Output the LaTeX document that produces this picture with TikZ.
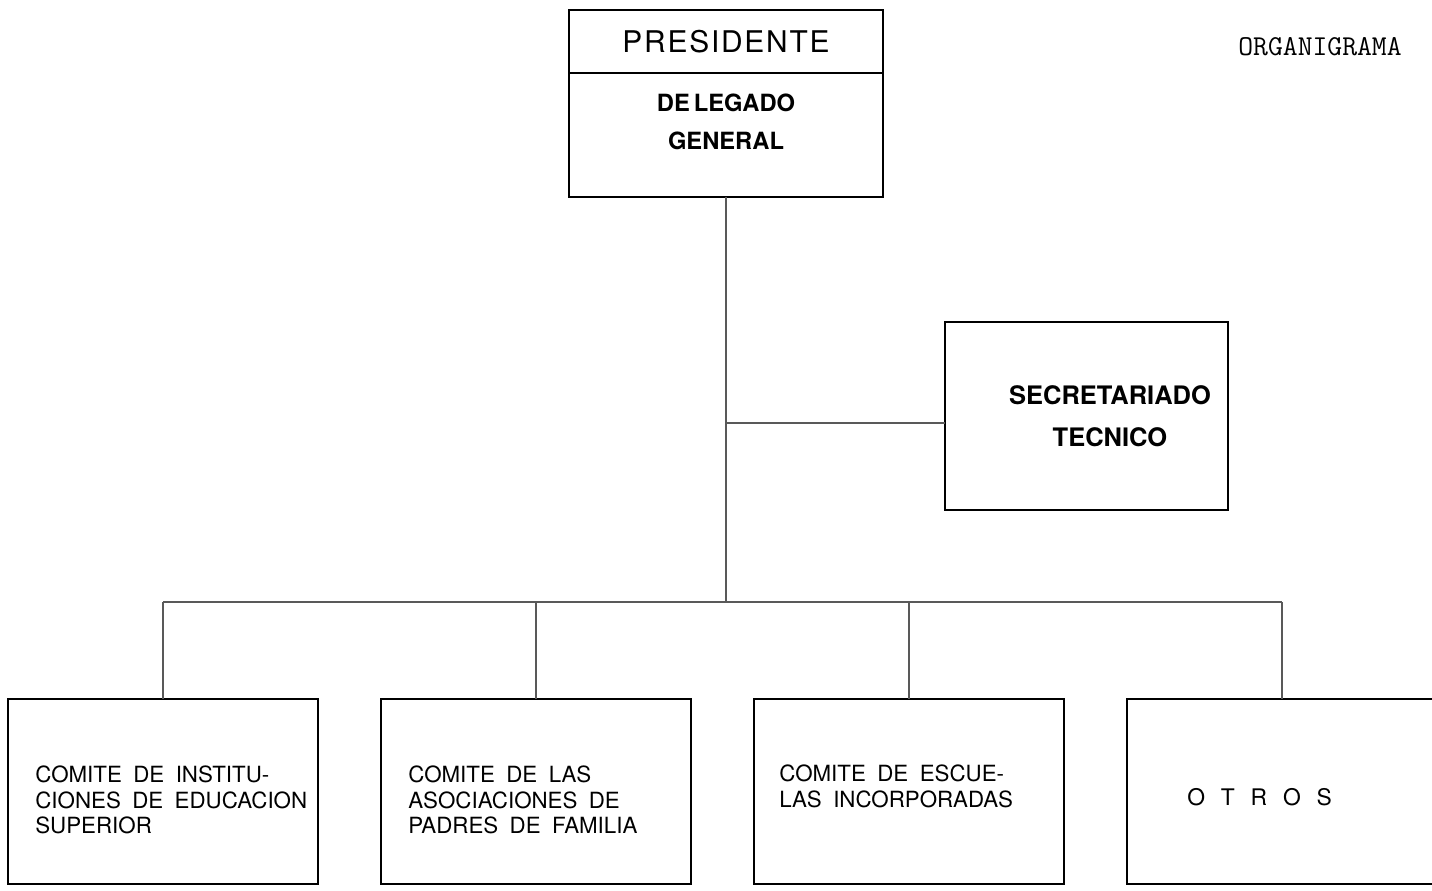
\documentclass[tikz,border=0pt]{standalone}
\usepackage{fontspec}
\usepackage{tikz}
\usepackage{xcolor}
\setmainfont{TeX Gyre Heros}
\newfontfamily\spacedfont[LetterSpace=6]{TeX Gyre Heros}
\newcommand\presfont{\spacedfont\fontsize{17}{20}\selectfont}
\newcommand\delfont{\bfseries\fontsize{13.5}{22}\selectfont}
\newcommand\secfont{\bfseries\fontsize{14.5}{24}\selectfont}
\newcommand\comfont{\fontsize{12.7}{14.5}\selectfont\spaceskip=6.5pt}
\newcommand\otrosfont{\fontsize{13}{15}\selectfont\spaceskip=9pt}

\begin{document}
\begin{tikzpicture}[node distance=1.5cm,auto]
\tikzstyle{rect}=[draw, line width=1.2pt, inner sep=0pt, outer sep=0pt]
\tikzstyle{box}=[rect, minimum width=6.2cm, minimum height=3.7cm]
\tikzstyle{txt}=[inner sep=0pt, align=left]
\tikzstyle{link}=[draw=black!65, line width=1.5pt]
\useasboundingbox (0,0) rectangle (28.64,17.8);

\node (pres) [rect, minimum width=6.28cm, minimum height=1.26cm, font=\presfont] at (14.52,16.97) {PRESIDENTE};
\node (del) [below of=pres, node distance=1.87cm, rect, minimum width=6.28cm, minimum height=2.48cm] {};
\node (deltxt) [txt, align=center, font=\delfont] at ([yshift=-0.98cm]del.north) {DE\,LEGADO\\GENERAL};

\node (org) [font=\ttfamily\fontsize{16.4}{18}\selectfont] at (26.4,16.86) {ORGANIGRAMA};

\node (sec) [rect, minimum width=5.66cm, minimum height=3.76cm] at (21.73,9.48) {};
\node (sectxt) [right of=sec, node distance=0.47cm, txt, align=center, font=\secfont] {SECRETARIADO\\TECNICO};

\node (c1) [box] at (3.26,1.97) {};
\node (c2) [right of=c1, node distance=7.46cm, box] {};
\node (c3) [right of=c2, node distance=7.46cm, box] {};
\node (c4) [right of=c3, node distance=7.46cm, box] {};

\node (t1) [txt, font=\comfont, anchor=west] at ([xshift=0.54cm, yshift=-0.17cm]c1.west) {COMITE DE INSTITU-\\CIONES DE EDUCACION\\SUPERIOR};
\node (t2) [txt, font=\comfont, anchor=west] at ([xshift=0.54cm, yshift=-0.17cm]c2.west) {COMITE DE LAS\\ASOCIACIONES DE\\PADRES DE FAMILIA};
\node (t3) [txt, font=\comfont, anchor=west] at ([xshift=0.5cm, yshift=0.1cm]c3.west) {COMITE DE ESCUE-\\LAS INCORPORADAS};
\node (t4) [txt, font=\otrosfont, anchor=west] at ([xshift=1.2cm, yshift=-0.11cm]c4.west) {O T R O S};

\coordinate (j) at ([yshift=-4.52cm]del.south);
\coordinate (b) at ([yshift=-8.1cm]del.south);

\path[link] (del.south) -- (b);
\path[link] (j) -- (j -| sec.west);
\path[link] (b -| c1.north) -- (b -| c4.north);
\foreach \c in {c1,c2,c3,c4}
  \path[link] (b -| \c.north) -- (\c.north);
\end{tikzpicture}
\end{document}
